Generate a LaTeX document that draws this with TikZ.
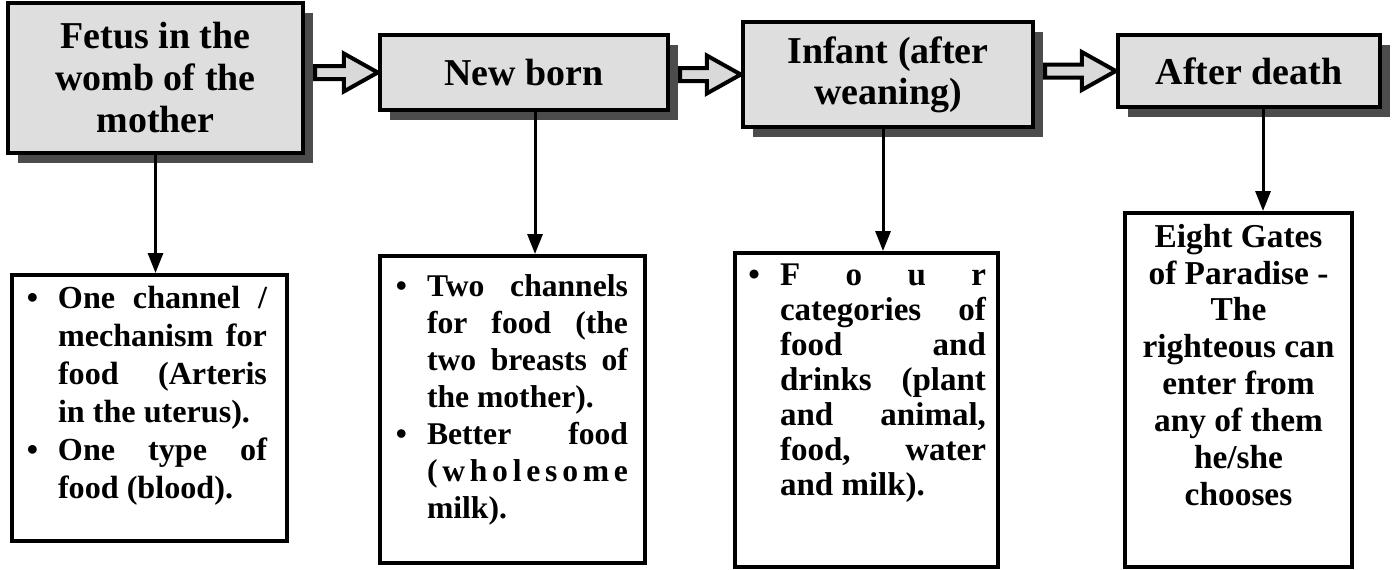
\documentclass[tikz,border=0pt]{standalone}
\usepackage{fontspec}
\newfontfamily\figfont{Liberation Serif}
\usetikzlibrary{calc,shadows,arrows.meta}
\def\blockarrow(#1)(#2){\draw[blockarrow] ($(#1.east |- #2.west)+(10,6.5)$) -- ($(#2.west)+(-34,6.5)$) -- ($(#2.west)+(-34,19)$) -- (#2.west) -- ($(#2.west)+(-34,-19)$) -- ($(#2.west)+(-34,-6.5)$) -- ($(#1.east |- #2.west)+(10,-6.5)$) -- cycle;}
\newcommand{\bitem}[2]{\par\hangindent=#1\hangafter=0\noindent\llap{\textbullet\hspace{0.4cm}}\ignorespaces#2\par}
\tikzset{
	stage/.style={draw, line width=0.09cm, fill=black!13, align=center, inner sep=0pt,
		font=\figfont\bfseries\fontsize{21.6}{23.9}\selectfont,
		drop shadow={shadow xshift=0.2cm, shadow yshift=-0.2cm, fill=black!70, opacity=1}},
	foodbox/.style={draw, line width=0.08cm, fill=white, inner ysep=0.22cm},
	blockarrow/.style={draw, line width=0.08cm, fill=black!15, line join=miter},
	downarrow/.style={line width=0.06cm, -{Triangle[length=0.4cm, width=0.3cm]}},
}
\begin{document}
\begin{tikzpicture}[x=0.02cm, y=-0.02cm]
		%%%%% START %%%%%
		\useasboundingbox (0,0) rectangle (1398,569);
		
		\node[foodbox, inner xsep=0.4cm, font=\figfont\bfseries\fontsize{18.3}{21.6}\selectfont] (fetusfood) at (149.5,408) {\parbox[c][4.88cm][t]{4.7cm}{%
			\bitem{0.52cm}{One channel /\linebreak mechanism for\linebreak food (Arteris\linebreak in the uterus).}
			\bitem{0.52cm}{One type of\linebreak food (blood).}}};
		
		\node[foodbox, inner xsep=0.34cm, font=\figfont\bfseries\fontsize{18}{21}\selectfont] (newbornfood) at (512.5,409.5) {\parbox[c][5.7cm][t]{4.62cm}{%
			\vspace*{0.16cm}
			\bitem{0.6cm}{Two channels\linebreak for food (the\linebreak two breasts of\linebreak the mother).}
			\bitem{0.6cm}{Better food\linebreak (\hfill w\hfill h\hfill o\hfill l\hfill e\hfill s\hfill o\hfill m\hfill e\linebreak milk).}}};
		
		\node[foodbox, inner xsep=0.24cm, font=\figfont\bfseries\fontsize{18.8}{19.9}\selectfont] (infantfood) at (866.5,410) {\parbox[c][5.84cm][t]{4.78cm}{%
			\bitem{0.66cm}{F\hfill o\hfill u\hfill r\linebreak categories of\linebreak food and\linebreak drinks (plant\linebreak and animal,\linebreak food, water\linebreak and milk).}}};
		
		\node[foodbox, inner xsep=0.2cm, font=\figfont\bfseries\fontsize{19}{21}\selectfont] (gates) at (1238.5,390) {\parbox[c][6.64cm][t]{4.14cm}{%
			\centering
			Eight Gates\\ of Paradise -\\ The\\ righteous can\\ enter from\\ any of them\\ he/she\\ chooses\par}};
		
		\node[stage, minimum width=5.9cm, minimum height=3cm] (fetus) at (155.5,78) {Fetus in the\\womb of the\\mother};
		\node[stage, minimum width=5.76cm, minimum height=1.5cm] (newborn) at (524,72.5) {New born};
		\node[stage, minimum width=5.8cm, minimum height=2.1cm, font=\figfont\bfseries\fontsize{21.6}{23.2}\selectfont] (infant) at (888,74.5) {Infant (after\\weaning)};
		\node[stage, minimum width=5.24cm, minimum height=1.44cm] (death) at (1249,71) {After death};
		
		\blockarrow(fetus)(newborn)
		\blockarrow(newborn)(infant)
		\blockarrow(infant)(death)
		
		\coordinate (nbdrop) at ($(newborn.south)+(11,0)$);
		\coordinate (indrop) at ($(infant.south)+(-5,0)$);
		\coordinate (dedrop) at ($(death.south)+(14,0)$);
		\draw[downarrow] (fetus.south) -- (fetus.south |- fetusfood.north);
		\draw[downarrow] (nbdrop) -- (nbdrop |- newbornfood.north);
		\draw[downarrow] (indrop) -- (indrop |- infantfood.north);
		\draw[downarrow] (dedrop) -- (dedrop |- gates.north);
		%%%%% END %%%%%
\end{tikzpicture}
\end{document}
